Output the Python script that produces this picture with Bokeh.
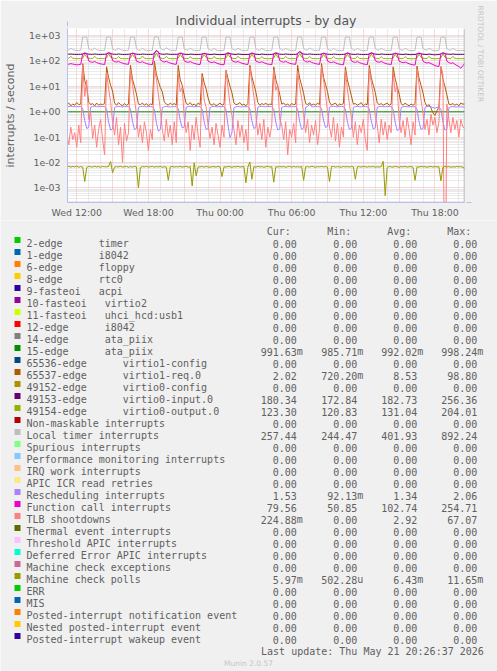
import re
import math
from bokeh.plotting import figure
from bokeh.layouts import column
from bokeh.models import (Range1d, FixedTicker, CustomJSTickFormatter, Title,
                          Span, Arrow, NormalHead)
from bokeh.core.properties import value
from bokeh.embed import file_html
from bokeh.resources import INLINE

# ------------------------------------------------------------------ data
TITLE = "Individual interrupts - by day"
Y_LABEL = "interrupts / second"
X_TICKS = [12, 18, 24, 30, 36, 42]          # hours since Wed 00:00
X_TICK_LABELS = ["Wed 12:00", "Wed 18:00", "Thu 00:00",
                 "Thu 06:00", "Thu 12:00", "Thu 18:00"]
Y_DECADES = [1e-3, 1e-2, 1e-1, 1e0, 1e1, 1e2, 1e3]
LAST_UPDATE = "Last update: Thu May 21 20:26:37 2026"
VERSION = "Munin 2.0.57"
SIDE_TEXT = "RRDTOOL / TOBI OETIKER"

T0 = 11 + 10 / 60      # first sample Wed 11:10
STEP = 10 / 60         # 10 minute samples
N = 201
HOURS = [T0 + i * STEP for i in range(N)]

# rows: first 8 samples (11:10-12:20), then one row per 2h cycle starting hh:30, last sample 20:30
LOCAL_TIMER = [
    262, 268, 315, 282, 262, 258, 256, 260,
    860, 875, 868, 305, 272, 270, 318, 276, 262, 258, 260, 257,
    872, 880, 861, 298, 268, 266, 322, 281, 260, 257, 259, 261,
    866, 884, 870, 310, 270, 263, 312, 274, 259, 256, 258, 260,
    880, 892, 878, 320, 275, 268, 330, 285, 262, 259, 261, 258,
    855, 870, 862, 302, 270, 264, 316, 279, 258, 255, 257, 259,
    862, 876, 858, 300, 268, 262, 310, 276, 257, 254, 256, 258,
    870, 879, 866, 306, 271, 265, 319, 282, 260, 256, 258, 257,
    858, 874, 869, 303, 269, 263, 314, 278, 258, 255, 257, 259,
    868, 882, 872, 308, 272, 266, 321, 280, 261, 257, 259, 256,
    875, 886, 870, 312, 274, 267, 325, 283, 262, 258, 260, 258,
    860, 872, 864, 301, 268, 262, 312, 277, 257, 253, 255, 257,
    866, 878, 868, 304, 270, 264, 317, 279, 259, 255, 256, 258,
    871, 881, 873, 307, 272, 265, 320, 281, 260, 256, 258, 256,
    864, 877, 866, 303, 269, 263, 315, 278, 258, 254, 256, 258,
    869, 880, 870, 306, 271, 264, 318, 280, 259, 248, 252, 256,
    862, 875, 866, 302, 268, 262, 314, 276, 257, 254, 257, 255,
    257,
]

VIRTIO0_IN = [
    181, 183, 186, 182, 180, 179, 181, 180,
    185, 198, 190, 184, 181, 180, 186, 182, 180, 179, 181, 180,
    188, 205, 193, 185, 182, 180, 187, 181, 179, 178, 180, 181,
    186, 201, 191, 183, 180, 179, 185, 182, 180, 179, 180, 179,
    195, 256, 210, 188, 183, 181, 188, 183, 181, 180, 182, 180,
    184, 199, 189, 183, 180, 178, 184, 181, 179, 177, 179, 180,
    185, 196, 188, 182, 179, 178, 185, 180, 178, 176, 178, 179,
    187, 203, 192, 184, 181, 179, 186, 182, 179, 177, 179, 178,
    185, 200, 190, 183, 180, 178, 185, 181, 178, 176, 178, 179,
    186, 202, 191, 184, 181, 179, 186, 182, 180, 178, 180, 178,
    192, 232, 200, 186, 182, 180, 187, 182, 180, 178, 180, 179,
    185, 198, 189, 183, 180, 178, 184, 181, 179, 177, 178, 180,
    186, 201, 190, 183, 180, 179, 185, 181, 179, 177, 179, 178,
    187, 204, 192, 184, 181, 179, 186, 182, 180, 178, 180, 179,
    185, 199, 189, 183, 180, 178, 184, 181, 178, 176, 178, 179,
    186, 200, 190, 183, 180, 178, 185, 181, 176, 173, 176, 178,
    188, 206, 193, 185, 182, 180, 186, 182, 180, 179, 181, 180,
    180,
]

VIRTIO0_OUT = [
    124, 128, 150, 127, 124, 123, 124, 125,
    130, 185, 138, 128, 125, 124, 152, 127, 124, 123, 124, 123,
    132, 190, 140, 129, 125, 124, 148, 126, 123, 122, 123, 124,
    129, 182, 137, 127, 124, 123, 155, 128, 124, 123, 124, 123,
    135, 204, 145, 130, 126, 124, 150, 127, 124, 122, 124, 123,
    128, 180, 136, 127, 124, 123, 146, 126, 123, 122, 123, 124,
    129, 178, 135, 127, 124, 122, 149, 126, 123, 121, 123, 122,
    131, 186, 139, 128, 125, 123, 153, 127, 124, 122, 123, 124,
    129, 183, 137, 127, 124, 123, 147, 126, 123, 122, 123, 123,
    130, 188, 138, 128, 125, 123, 151, 127, 124, 122, 124, 123,
    133, 196, 142, 129, 125, 124, 150, 127, 124, 123, 124, 123,
    129, 181, 136, 127, 124, 122, 148, 126, 123, 121, 123, 122,
    130, 184, 138, 128, 124, 123, 152, 127, 123, 122, 123, 124,
    131, 187, 139, 128, 125, 123, 149, 126, 124, 122, 123, 123,
    129, 182, 137, 127, 124, 122, 147, 126, 123, 121, 122, 123,
    130, 185, 138, 128, 124, 123, 150, 127, 123, 121, 122, 123,
    132, 189, 140, 128, 125, 123, 151, 127, 124, 122, 123, 123,
    123,
]

FUNC_CALL = [
    72, 74, 78, 75, 72, 70, 71, 73,
    192, 205, 198, 100, 92, 88, 95, 86, 80, 76, 74, 72,
    195, 210, 200, 104, 94, 90, 96, 87, 82, 77, 75, 73,
    188, 202, 196, 98, 91, 87, 93, 85, 79, 75, 73, 71,
    215, 254, 230, 110, 96, 90, 97, 88, 82, 78, 75, 73,
    190, 204, 197, 101, 92, 88, 94, 86, 80, 76, 73, 72,
    186, 200, 193, 97, 90, 86, 92, 84, 78, 74, 72, 70,
    193, 207, 199, 103, 93, 89, 95, 87, 81, 77, 74, 72,
    189, 203, 196, 99, 91, 87, 93, 85, 79, 75, 73, 71,
    194, 208, 200, 102, 93, 89, 96, 87, 81, 77, 75, 73,
    205, 232, 214, 106, 95, 90, 97, 88, 82, 78, 75, 73,
    188, 201, 195, 98, 90, 86, 92, 84, 78, 74, 72, 70,
    191, 205, 198, 100, 92, 88, 94, 86, 80, 76, 73, 71,
    193, 207, 200, 102, 93, 88, 95, 87, 80, 76, 74, 72,
    187, 201, 194, 97, 90, 85, 91, 83, 77, 73, 70, 68,
    190, 203, 196, 96, 88, 82, 86, 78, 72, 66, 62, 60,
    192, 206, 198, 98, 86, 80, 84, 74, 66, 60, 52, 64,
    80,
]

RESCHED = [
    1.62, 1.58, 1.66, 1.60, 1.55, 1.63, 1.59, 1.61,
    1.30, 0.45, 0.22, 0.24, 1.52, 1.60, 1.65, 1.58, 1.57, 1.63, 1.59, 1.61,
    1.25, 0.40, 0.19, 0.21, 1.48, 1.58, 1.64, 1.57, 1.55, 1.61, 1.57, 1.60,
    1.28, 0.42, 0.20, 0.22, 1.50, 1.59, 1.63, 1.58, 1.56, 1.62, 1.58, 1.60,
    1.22, 0.38, 0.17, 0.20, 1.46, 1.57, 1.62, 1.56, 1.54, 1.60, 1.56, 1.59,
    1.30, 0.46, 0.23, 0.25, 1.52, 1.60, 1.64, 1.59, 1.57, 1.62, 1.58, 1.61,
    1.27, 0.41, 0.20, 0.22, 1.49, 1.58, 1.63, 1.57, 1.55, 1.61, 1.57, 1.60,
    1.20, 0.30, 0.095, 0.15, 1.44, 1.56, 1.62, 1.56, 1.54, 1.60, 1.56, 1.58,
    1.29, 0.44, 0.22, 0.24, 1.51, 1.59, 1.64, 1.58, 1.56, 1.62, 1.58, 1.60,
    1.26, 0.40, 0.19, 0.21, 1.48, 1.58, 1.63, 1.57, 1.55, 1.61, 1.57, 1.59,
    1.27, 0.42, 0.20, 0.23, 1.49, 1.58, 2.06, 1.57, 1.55, 1.61, 1.57, 1.60,
    1.31, 0.47, 0.24, 0.26, 1.53, 1.60, 1.64, 1.59, 1.57, 1.62, 1.59, 1.61,
    1.26, 0.41, 0.20, 0.22, 1.49, 1.58, 1.63, 1.57, 1.55, 1.61, 1.57, 1.60,
    1.28, 0.43, 0.21, 0.23, 1.50, 1.59, 1.63, 1.58, 1.56, 1.62, 1.58, 1.60,
    1.24, 0.39, 0.18, 0.20, 1.47, 1.57, 1.62, 1.56, 1.54, 1.60, 1.56, 1.59,
    1.27, 0.41, 0.20, 0.22, 1.49, 1.58, 1.62, 1.57, 1.45, 1.38, 1.47, 1.56,
    1.26, 0.40, 0.19, 0.21, 1.47, 1.56, 1.60, 1.55, 1.53, 1.57, 1.54, 1.55,
    1.53,
]

VIRTIO1_REQ = [
    1.9, 2.2, 1.7, 2.0, 1.8, 2.3, 1.9, 2.0,
    78, 17, 9.5, 2.4, 1.9, 2.1, 1.7, 2.2, 1.8, 2.0, 1.9, 2.1,
    58, 22, 11, 6.5, 2.2, 1.8, 2.3, 1.9, 1.7, 2.1, 1.8, 2.0,
    67, 19, 10, 5.0, 2.0, 1.9, 2.2, 1.8, 2.1, 1.7, 2.0, 1.9,
    98.8, 30, 16, 9.0, 6.0, 2.4, 2.0, 1.8, 2.2, 1.9, 2.1, 1.8,
    67, 18, 11, 4.5, 2.1, 1.9, 2.3, 1.8, 2.0, 1.7, 2.2, 1.9,
    32, 14, 8, 3.5, 2.0, 1.8, 2.1, 1.7, 1.9, 2.2, 1.8, 2.0,
    43, 20, 10, 5.5, 2.2, 1.9, 2.0, 2.3, 1.8, 2.0, 1.7, 2.1,
    67, 24, 12, 6.0, 2.3, 1.8, 2.1, 1.9, 2.2, 1.8, 2.0, 1.9,
    58, 19, 10, 4.8, 2.0, 2.2, 1.8, 2.0, 1.7, 2.1, 1.9, 2.0,
    67, 21, 11, 5.2, 2.1, 1.9, 2.3, 1.8, 2.0, 1.8, 2.2, 1.9,
    78, 23, 12, 6.2, 2.4, 1.8, 2.0, 2.2, 1.7, 2.0, 1.9, 2.1,
    58, 18, 9, 4.2, 2.0, 2.1, 1.8, 2.0, 2.3, 1.7, 2.0, 1.9,
    67, 22, 11, 5.8, 2.2, 1.9, 2.1, 1.8, 2.0, 2.2, 1.8, 2.0,
    58, 20, 10, 5.0, 2.1, 1.8, 2.2, 1.9, 1.7, 2.0, 1.8, 2.1,
    62, 21, 11, 5.5, 2.3, 1.6, 1.9, 1.4, 0.9, 0.72, 1.1, 1.5,
    58, 19, 10, 4.6, 2.0, 1.9, 2.1, 1.8, 2.0, 1.7, 2.2, 2.0,
    2.02,
]

TLB = [
    0.12, 0.05, 0.25, 0.08, 0.15, 0.04, 0.3, 0.06,
    67, 4.0, 18, 0.5, 0.9, 0.09, 0.3, 0.04, 0.2, 0.5, 0.08, 0.02,
    35, 8.0, 2.5, 0.4, 0.12, 0.6, 0.05, 0.25, 0.01, 0.35, 0.07, 0.15,
    45, 12, 3.0, 0.8, 0.1, 0.3, 0.06, 0.4, 0.15, 0.03, 0.2, 0.08,
    50, 20, 5.0, 1.2, 0.2, 0.07, 0.5, 0.1, 0.3, 0.05, 0.4, 0.06,
    30, 6.0, 9.0, 0.6, 0.15, 0.4, 0.03, 0.3, 0.08, 0.6, 0.12, 0.04,
    25, 3.0, 1.5, 0.3, 0.09, 0.25, 0.05, 0.35, 0.12, 0.04, 0.3, 0.1,
    40, 9.0, 2.0, 0.7, 0.2, 0.05, 0.45, 0.1, 0.3, 0.06, 0.2, 0.03,
    55, 15, 4.0, 0.9, 0.12, 0.35, 0.08, 0.5, 0.04, 0.25, 0.1, 0.3,
    45, 7.0, 12, 0.5, 0.3, 0.08, 0.4, 0.02, 0.2, 0.1, 0.35, 0.06,
    38, 10, 3.5, 0.8, 0.15, 0.5, 0.06, 0.3, 0.12, 0.45, 0.05, 0.2,
    60, 18, 5.0, 1.0, 0.25, 0.1, 0.6, 0.07, 0.35, 0.04, 0.25, 0.1,
    42, 8.0, 2.0, 0.6, 0.1, 0.4, 0.05, 0.3, 0.15, 0.5, 0.08, 0.03,
    50, 14, 4.5, 0.7, 0.3, 0.06, 0.5, 0.12, 0.4, 0.08, 0.3, 0.15,
    36, 6.0, 10, 0.5, 0.15, 0.45, 0.1, 0.6, 0.2, 0.05, 0.4, 0.12,
    48, 12, 3.0, 0.9, 0.2, 0.5, 0.12, 0.8, 0.3, 0.6, 0.15, 0.4,
    62, 30, 0.0, 2.0, 0.5, 0.15, 0.6, 0.2, 0.45, 0.1, 0.5, 0.25,
    0.22,
]

MC_POLLS = [
    0.0068, 0.0071, 0.0066, 0.0070, 0.0067, 0.0072, 0.0065, 0.0069,
    0.0066, 0.0018, 0.0064, 0.0070, 0.0068, 0.0066, 0.0071, 0.0067, 0.0069, 0.0065, 0.0070, 0.0068,
    0.0067, 0.0071, 0.0110, 0.0040, 0.0066, 0.0069, 0.0067, 0.0071, 0.0066, 0.0068, 0.0070, 0.0065,
    0.0069, 0.0066, 0.0070, 0.0067, 0.0010, 0.0064, 0.0069, 0.0067, 0.0071, 0.0066, 0.0068, 0.0070,
    0.0066, 0.0069, 0.0067, 0.0070, 0.0065, 0.0068, 0.0066, 0.0020, 0.0067, 0.0070, 0.0066, 0.0069,
    0.0067, 0.0070, 0.0066, 0.0068, 0.0071, 0.0065, 0.0069, 0.0012, 0.0098, 0.0030, 0.0066, 0.0068,
    0.0069, 0.0066, 0.0070, 0.0067, 0.0065, 0.0069, 0.0068, 0.0066, 0.0070, 0.0067, 0.0028, 0.0068,
    0.0066, 0.0070, 0.0068, 0.0065, 0.0069, 0.0067, 0.0071, 0.0066, 0.0068, 0.0070, 0.0016, 0.0067,
    0.0105, 0.0022, 0.0068, 0.0066, 0.0070, 0.0067, 0.0069, 0.0065, 0.0068, 0.0071, 0.0066, 0.0069,
    0.0017, 0.0068, 0.0066, 0.0070, 0.0067, 0.0069, 0.0065, 0.0068, 0.0070, 0.0066, 0.0069, 0.0067,
    0.0068, 0.0066, 0.0070, 0.0020, 0.0067, 0.0069, 0.0066, 0.0071, 0.0068, 0.0065, 0.0069, 0.0067,
    0.0070, 0.0067, 0.0069, 0.0066, 0.0018, 0.0068, 0.0070, 0.0066, 0.0069, 0.0067, 0.0065, 0.0070,
    0.0067, 0.0069, 0.0066, 0.0070, 0.0068, 0.0022, 0.0067, 0.0069, 0.0066, 0.0070, 0.0068, 0.0066,
    0.0069, 0.0067, 0.0070, 0.0065, 0.0068, 0.0066, 0.0069, 0.0112, 0.0005, 0.0064, 0.0070, 0.0067,
    0.0066, 0.0070, 0.0068, 0.0065, 0.0069, 0.0067, 0.0070, 0.0066, 0.0068, 0.0069, 0.0065, 0.0020,
    0.0068, 0.0066, 0.0070, 0.0067, 0.0069, 0.0065, 0.0068, 0.0070, 0.0066, 0.0069, 0.0067, 0.0068,
    0.0019, 0.0066, 0.0070, 0.0067, 0.0069, 0.0065, 0.0068, 0.0066, 0.0070, 0.0067, 0.0069, 0.0064,
    0.00597,
]

ATA15 = [
    0.992, 0.991, 0.993, 0.992, 0.992, 0.990, 0.992, 0.993,
    0.992, 0.993, 0.991, 0.992, 0.992, 0.994, 0.992, 0.991, 0.992, 0.993, 0.992, 0.992,
    0.991, 0.992, 0.993, 0.992, 0.990, 0.992, 0.992, 0.993, 0.991, 0.992, 0.992, 0.993,
    0.992, 0.992, 0.991, 0.993, 0.992, 0.992, 0.994, 0.992, 0.991, 0.992, 0.993, 0.992,
    0.993, 0.992, 0.992, 0.991, 0.992, 0.993, 0.992, 0.990, 0.992, 0.992, 0.993, 0.991,
    0.992, 0.991, 0.993, 0.992, 0.992, 0.992, 0.991, 0.993, 0.992, 0.994, 0.992, 0.992,
    0.991, 0.992, 0.992, 0.993, 0.992, 0.991, 0.992, 0.992, 0.993, 0.992, 0.990, 0.992,
    0.992, 0.993, 0.992, 0.992, 0.991, 0.992, 0.993, 0.992, 0.992, 0.991, 0.992, 0.993,
    0.986, 0.992, 0.993, 0.991, 0.992, 0.992, 0.993, 0.992, 0.991, 0.992, 0.992, 0.993,
    0.992, 0.991, 0.992, 0.993, 0.992, 0.992, 0.991, 0.994, 0.992, 0.992, 0.993, 0.991,
    0.992, 0.993, 0.991, 0.992, 0.992, 0.993, 0.992, 0.991, 0.992, 0.998, 0.992, 0.992,
    0.993, 0.992, 0.992, 0.991, 0.992, 0.993, 0.992, 0.992, 0.991, 0.992, 0.993, 0.992,
    0.992, 0.991, 0.993, 0.992, 0.992, 0.992, 0.991, 0.993, 0.992, 0.992, 0.992, 0.991,
    0.991, 0.992, 0.992, 0.993, 0.992, 0.991, 0.992, 0.993, 0.992, 0.992, 0.991, 0.992,
    0.992, 0.993, 0.992, 0.991, 0.992, 0.992, 0.993, 0.992, 0.991, 0.992, 0.992, 0.993,
    0.992, 0.992, 0.991, 0.993, 0.992, 0.992, 0.992, 0.991, 0.992, 0.993, 0.992, 0.992,
    0.991, 0.992, 0.993, 0.992, 0.992, 0.991, 0.992, 0.992, 0.993, 0.992, 0.991, 0.992,
    0.992,
]

# legend (order, label text, current / min / avg / max)
LABELS = [
    "2-edge      timer", "1-edge      i8042", "6-edge      floppy", "8-edge      rtc0",
    "9-fasteoi   acpi", "10-fasteoi   virtio2", "11-fasteoi   uhci_hcd:usb1",
    "12-edge      i8042", "14-edge      ata_piix", "15-edge      ata_piix",
    "65536-edge      virtio1-config", "65537-edge      virtio1-req.0",
    "49152-edge      virtio0-config", "49153-edge      virtio0-input.0",
    "49154-edge      virtio0-output.0",
    "Non-maskable interrupts", "Local timer interrupts", "Spurious interrupts",
    "Performance monitoring interrupts", "IRQ work interrupts", "APIC ICR read retries",
    "Rescheduling interrupts", "Function call interrupts", "TLB shootdowns",
    "Thermal event interrupts", "Threshold APIC interrupts", "Deferred Error APIC interrupts",
    "Machine check exceptions", "Machine check polls", "ERR", "MIS",
    "Posted-interrupt notification event", "Nested posted-interrupt event",
    "Posted-interrupt wakeup event",
]
COLORS = [
    "#00CC00", "#0066B3", "#FF8000", "#FFCC00", "#330099", "#990099", "#CCFF00",
    "#FF0000", "#808080", "#008F00", "#00487D", "#B35A00", "#B38F00", "#6B006B",
    "#8FB300", "#B30000", "#BEBEBE", "#80FF80", "#80C9FF", "#FFC080", "#FFE680",
    "#AA80FF", "#EE00CC", "#FF8080", "#666600", "#FFBFFF", "#00FFCC", "#CC6699",
    "#999900", "#00CC00", "#0066B3", "#FF8000", "#FFCC00", "#330099",
]
CUR = [0, 0, 0, 0, 0, 0, 0, 0, 0, 0.99163, 0, 2.02, 0, 180.34, 123.30,
       0, 257.44, 0, 0, 0, 0, 1.53, 79.56, 0.22488, 0, 0, 0, 0, 0.00597,
       0, 0, 0, 0, 0]
MINV = [0, 0, 0, 0, 0, 0, 0, 0, 0, 0.98571, 0, 0.72020, 0, 172.84, 120.83,
        0, 244.47, 0, 0, 0, 0, 0.09213, 50.85, 0, 0, 0, 0, 0, 0.00050228,
        0, 0, 0, 0, 0]
AVGV = [0, 0, 0, 0, 0, 0, 0, 0, 0, 0.99202, 0, 8.53, 0, 182.73, 131.04,
        0, 401.93, 0, 0, 0, 0, 1.34, 102.74, 2.92, 0, 0, 0, 0, 0.00643,
        0, 0, 0, 0, 0]
MAXV = [0, 0, 0, 0, 0, 0, 0, 0, 0, 0.99824, 0, 98.80, 0, 256.36, 204.01,
        0, 892.24, 0, 0, 0, 0, 2.06, 254.71, 67.07, 0, 0, 0, 0, 0.01165,
        0, 0, 0, 0, 0]
HEADERS = ["Cur:", "Min:", "Avg:", "Max:"]

# which legend entry each drawn series belongs to (drawing order = legend order)
SERIES = [(9, ATA15), (11, VIRTIO1_REQ), (13, VIRTIO0_IN), (14, VIRTIO0_OUT),
          (16, LOCAL_TIMER), (21, RESCHED), (22, FUNC_CALL), (23, TLB), (28, MC_POLLS)]

# ------------------------------------------------------------------ styles
WIDTH = 497
TOP_H = 220                 # chart part
BOT_H = 671 - TOP_H         # legend part
BACK = "#f0f0f0"
FONT_C = "#606060"
AXIS_C = "#b8bff0"
ARROW_C = "#c4cbf5"
MGRID = "#f0b0b0"
GRID = "#d6d6d6"
SANS = "DejaVu Sans"
MONO = "DejaVu Sans Mono"
X0, X1 = 11.225, 44.475
Y0, Y1 = 2.68e-4, 1882
FRAME_H = 175               # px of the plotting area

# ================================================================== chart
p = figure(width=WIDTH, height=TOP_H, output_backend="svg", toolbar_location=None,
           x_range=Range1d(X0, X1), y_range=Range1d(Y0, Y1),
           y_axis_type="log",
           min_border_left=67, min_border_right=31, min_border_top=28,
           min_border_bottom=TOP_H - 28 - FRAME_H,
           background_fill_color="#ffffff", border_fill_color=BACK,
           outline_line_color=None)
p.frame_align = False

p.title.text = TITLE
p.title.align = "center"
p.title.offset = -18
p.title.standoff = 2
p.title.text_font = SANS
p.title.text_font_size = "12.5px"
p.title.text_font_style = "normal"
p.title.text_color = "#555555"

p.add_layout(Title(text=SIDE_TEXT, align="left", offset=-23, text_font=SANS,
                   text_font_size="7.5px", text_font_style="normal",
                   text_color="#c6c6c6", standoff=22), "right")

# grids
maj_x = [h for h in range(12, 45) if h % 3 == 0]
min_x = [h for h in range(12, 45) if h % 3 != 0]
p.xgrid.ticker = FixedTicker(ticks=maj_x, minor_ticks=min_x)
minor_y = [m * 10.0 ** e for e in range(-4, 4) for m in range(2, 10)]
p.ygrid.ticker = FixedTicker(ticks=Y_DECADES, minor_ticks=minor_y)
for g in (p.xgrid[0], p.ygrid[0]):
    g.grid_line_color = MGRID
    g.grid_line_dash = "1 1"
    g.grid_line_width = 1
    g.minor_grid_line_color = GRID
    g.minor_grid_line_dash = "1 1"
    g.minor_grid_line_width = 1

# axes
for ax in (p.xaxis[0], p.yaxis[0]):
    ax.axis_line_color = AXIS_C
    ax.major_tick_line_color = None
    ax.minor_tick_line_color = None
    ax.major_tick_out = 0
    ax.major_tick_in = 0
    ax.minor_tick_out = 0
    ax.minor_tick_in = 0
    ax.major_label_text_font = SANS
    ax.major_label_text_font_size = "9.4px"
    ax.major_label_text_color = FONT_C
p.xaxis.ticker = FixedTicker(ticks=X_TICKS)
p.xaxis.major_label_overrides = dict(zip(X_TICKS, X_TICK_LABELS))
p.xaxis.major_label_standoff = 4
p.yaxis.ticker = FixedTicker(ticks=Y_DECADES)
p.yaxis.formatter = CustomJSTickFormatter(code="""
    const e = Math.round(Math.log10(tick));
    const a = Math.abs(e);
    return "1e" + (e < 0 ? "-" : "+") + (a < 10 ? "0" : "") + a;
""")
p.yaxis.major_label_standoff = 7
p.yaxis.axis_label = Y_LABEL
p.yaxis.axis_label_text_font = SANS
p.yaxis.axis_label_text_font_size = "11px"
p.yaxis.axis_label_text_font_style = "normal"
p.yaxis.axis_label_text_color = FONT_C
p.yaxis.axis_label_standoff = 9

p.add_layout(Span(location=44.46, dimension="height", line_color="#8c8c8c",
                  line_width=1))

# axis arrows (rrdtool style), a few px beyond the plotting area
px_per_h = 399 / (X1 - X0)
dec_per_px = (math.log10(Y1) - math.log10(Y0)) / FRAME_H
y_tip = 10 ** (math.log10(Y1) + 7 * dec_per_px)
x_tip = X1 + 7 / px_per_h
p.add_layout(Arrow(x_start=X0, y_start=Y1, x_end=X0, y_end=y_tip,
                   line_color=AXIS_C, line_width=1,
                   end=NormalHead(size=5, fill_color=ARROW_C, line_color=ARROW_C)))
p.add_layout(Arrow(x_start=X1, y_start=Y0, x_end=x_tip, y_end=Y0,
                   line_color=AXIS_C, line_width=1,
                   end=NormalHead(size=5, fill_color=ARROW_C, line_color=ARROW_C)))

# series
for idx, vals in SERIES:
    yv = [v if v > 0 else 1e-9 for v in vals]
    p.line(HOURS, yv, line_color=COLORS[idx], line_width=1)

# ================================================================== legend
q = figure(width=WIDTH, height=BOT_H, output_backend="svg", toolbar_location=None,
           x_range=Range1d(0, WIDTH), y_range=Range1d(671, TOP_H),
           x_axis_location=None, y_axis_location=None, min_border=0,
           background_fill_color=BACK, border_fill_color=BACK,
           outline_line_color=None)
q.frame_align = False
q.grid.visible = False

ROW0 = 243.3          # baseline of the first legend row (page px)
ROWH = 12.0
CW = 6.02             # advance of one 10px mono character
VAL_RIGHT = [296.3, 356.8, 416.8, 476.8]


def fmt(v):
    if v == 0:
        return "0.00", ""
    if abs(v) < 1e-3:
        return f"{v * 1e6:.2f}", "u"
    if abs(v) < 1:
        return f"{v * 1e3:.2f}", "m"
    return f"{v:.2f}", ""


lx, ly, lt = [], [], []          # left aligned texts
rx, ry, rt = [], [], []          # right aligned texts
for hdr, r in zip(HEADERS, VAL_RIGHT):
    rx.append(r - CW); ry.append(ROW0 - ROWH); rt.append(hdr)
sw_top, sw_bot = [], []
for j, text in enumerate(LABELS):
    yb = ROW0 + j * ROWH
    sw_top.append(yb - 6.8)
    sw_bot.append(yb - 0.8)
    for m in re.finditer(r"\S+(?: \S+)*", text):
        lx.append(26 + m.start() * CW); ly.append(yb); lt.append(m.group())
    for col, arr in enumerate((CUR, MINV, AVGV, MAXV)):
        num, suf = fmt(arr[j])
        rx.append(VAL_RIGHT[col]); ry.append(yb); rt.append(num)
        if suf:
            lx.append(VAL_RIGHT[col]); ly.append(yb); lt.append(suf)
rx.append(483.3); ry.append(ROW0 + 34 * ROWH); rt.append(LAST_UPDATE)

q.quad(left=[14] * len(LABELS), right=[20] * len(LABELS), top=sw_top,
       bottom=sw_bot, fill_color=COLORS, line_color=None)
q.text(x=lx, y=ly, text=lt, text_font=value(MONO), text_font_size=value("10px"),
       text_color=FONT_C, text_align="left", text_baseline="alphabetic")
q.text(x=rx, y=ry, text=rt, text_font=value(MONO), text_font_size=value("10px"),
       text_color=FONT_C, text_align="right", text_baseline="alphabetic")
q.text(x=[248], y=[662.8], text=[VERSION], text_font=value(SANS),
       text_font_size=value("7.5px"), text_color="#c6c6c6", text_align="center",
       text_baseline="alphabetic")

layout = column(p, q, spacing=0)
open("out.html", "w").write(file_html(layout, INLINE))
